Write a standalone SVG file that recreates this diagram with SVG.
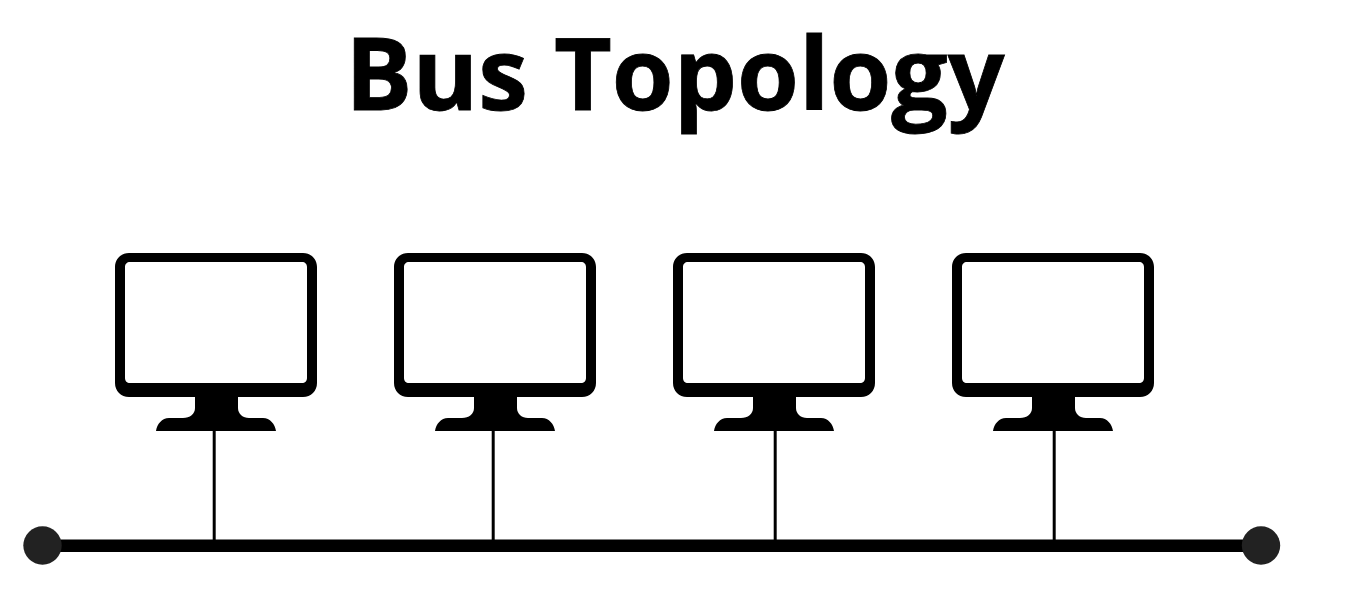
<svg xmlns="http://www.w3.org/2000/svg" width="1368" height="606" viewBox="0 0 1368 606">
<style>
.title{font-family:"Open Sans","Noto Sans","Liberation Sans",sans-serif;font-weight:700;font-size:100px;fill:#000;stroke:#000;stroke-width:0.800}
.drop{stroke:#000;stroke-width:3;fill:none}
.bus{stroke:#000;stroke-width:12.500}
.end{fill:#222}
</style>
<defs>
<g id="pc">
<path fill-rule="evenodd" d="M14 0H188C196 0 202 6 202 14V130C202 138 196 144 188 144H14C6 144 0 138 0 130V14C0 6 6 0 14 0ZM15 9C12 9 10 11 10 14V125C10 128 12 130 15 130H187C190 130 192 128 192 125V14C192 11 190 9 187 9Z" fill="#000"/>
<path d="M80 142H123V155C123 161 128 165 134 165H148C155 165 160 171 161 178H41C42 171 47 165 54 165H68C75 165 80 161 80 155Z" fill="#000"/>
</g>
</defs>
<rect width="1368" height="606" fill="#fff"/>
<text class="title" x="675" y="110" text-anchor="middle">Bus Topology</text>
<g id="connectors">
<line class="bus" x1="50" y1="545.700" x2="1255" y2="545.700"/>
<line class="drop" x1="214.200" y1="430" x2="214.200" y2="541"/>
<line class="drop" x1="493.200" y1="430" x2="493.200" y2="541"/>
<line class="drop" x1="775.200" y1="430" x2="775.200" y2="541"/>
<line class="drop" x1="1054.200" y1="430" x2="1054.200" y2="541"/>
</g>
<g id="pc1"><use href="#pc" x="115" y="253"/></g>
<g id="pc2"><use href="#pc" x="394" y="253"/></g>
<g id="pc3"><use href="#pc" x="673" y="253"/></g>
<g id="pc4"><use href="#pc" x="952" y="253"/></g>
<g id="end-left"><circle class="end" cx="42.500" cy="545.500" r="19.200"/></g>
<g id="end-right"><circle class="end" cx="1261" cy="545.500" r="19.200"/></g>
</svg>
